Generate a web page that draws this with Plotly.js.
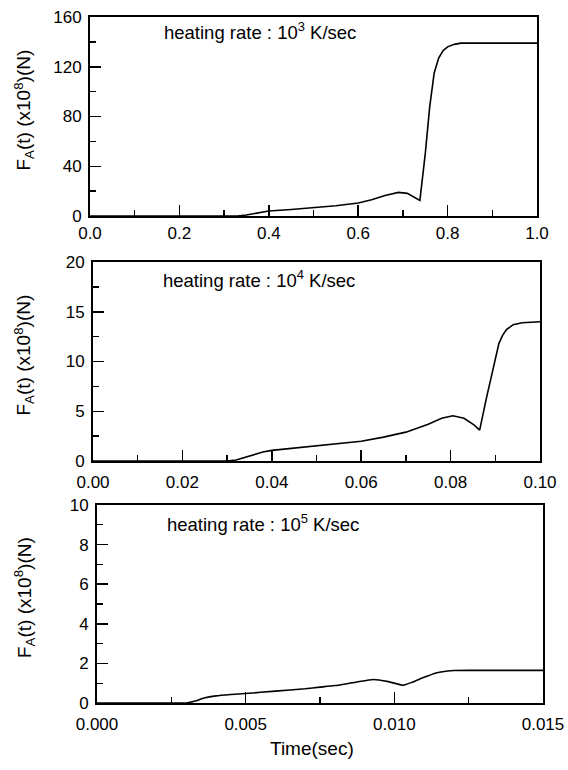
<!DOCTYPE html>
<html>
<head>
<meta charset="utf-8">
<script src="https://cdn.plot.ly/plotly-3.0.1.min.js"></script>
<style>html,body{margin:0;padding:0;background:#fff}#chart{width:568px;height:770px}</style>
</head>
<body>
<div id="chart"></div>
<script>
// Panel 1: heating rate 10^3 K/sec
const t1 = [0, 0.1, 0.2, 0.3, 0.33, 0.35, 0.37, 0.40, 0.45, 0.50, 0.55, 0.60, 0.63, 0.66, 0.69, 0.71, 0.725, 0.738, 0.75, 0.76, 0.77, 0.78, 0.79, 0.80, 0.815, 0.83, 0.85, 0.9, 1.0];
const f1 = [0, 0, 0, 0, 0, 0.8, 2, 4, 5.2, 6.5, 8.2, 10.5, 13, 16.5, 19, 18.2, 15.5, 12.5, 50, 88, 115, 127, 133, 136, 138, 139, 139, 139, 139];
// Panel 2: heating rate 10^4 K/sec
const t2 = [0, 0.01, 0.02, 0.03, 0.032, 0.035, 0.038, 0.04, 0.045, 0.05, 0.055, 0.06, 0.065, 0.07, 0.075, 0.078, 0.0805, 0.083, 0.0853, 0.0865, 0.088, 0.089, 0.0898, 0.0908, 0.0916, 0.0925, 0.094, 0.096, 0.098, 0.1];
const f2 = [0, 0, 0, 0, 0.1, 0.5, 0.9, 1.07, 1.3, 1.5, 1.7, 1.98, 2.4, 2.9, 3.7, 4.3, 4.55, 4.3, 3.6, 3.1, 6.3, 8.3, 10, 11.8, 12.6, 13.2, 13.7, 13.9, 13.95, 14.0];
// Panel 3: heating rate 10^5 K/sec
const t3 = [0, 0.001, 0.002, 0.003, 0.0033, 0.0036, 0.004, 0.0045, 0.005, 0.006, 0.007, 0.0075, 0.008, 0.0087, 0.0093, 0.0098, 0.0103, 0.0106, 0.011, 0.0114, 0.0118, 0.012, 0.013, 0.015];
const f3 = [0, 0, 0, 0, 0.1, 0.25, 0.36, 0.43, 0.48, 0.6, 0.72, 0.8, 0.88, 1.05, 1.19, 1.08, 0.9, 1.05, 1.3, 1.52, 1.62, 1.64, 1.65, 1.65];

const rateLabels = ["heating rate : 10<sup>3</sup> K/sec", "heating rate : 10<sup>4</sup> K/sec", "heating rate : 10<sup>5</sup> K/sec"];
const yTitle = "F<sub>A</sub>(t) (x10<sup>8</sup>)(N)";
const xTitle = "Time(sec)";

const W = 568, H = 770;
const fam = "Liberation Sans, Arial, sans-serif";
const tickFont = {family: fam, size: 17, color: "#000"};
const titleFont = {family: fam, size: 19, color: "#000"};
const labelFont = {family: fam, size: 18.5, color: "#000"};
const line = {color: "#000", width: 1.6};

const traces = [
  {x: t1, y: f1, xaxis: "x", yaxis: "y", mode: "lines", line: line, hoverinfo: "skip"},
  {x: t2, y: f2, xaxis: "x2", yaxis: "y2", mode: "lines", line: line, hoverinfo: "skip"},
  {x: t3, y: f3, xaxis: "x3", yaxis: "y3", mode: "lines", line: Object.assign({shape: "spline", smoothing: 0.5}, line), hoverinfo: "skip"}
];

// pixel boxes: [left, right, top, bottom]
const boxes = [[90, 537, 17, 216], [93, 540, 262, 461], [97, 543, 505, 703]];
const xr = [[0, 1], [0, 0.1], [0, 0.015]];
const xd = [0.2, 0.02, 0.005];
const xfmt = [".1f", ".2f", ".3f"];
const yr = [[0, 160], [0, 20], [0, 10]];
const yd = [40, 5, 2];
const xStandoff = [1, 5, 5];

function ax(range, dtick, fmt, domain, anchor) {
  return {
    domain: domain, range: range, anchor: anchor, dtick: dtick, tick0: 0,
    tickformat: fmt, ticks: "inside", ticklen: 11, tickwidth: 1.5, tickcolor: "#000",
    minor: {dtick: dtick / 2, ticks: "inside", ticklen: 6, tickwidth: 1.3, tickcolor: "#000", showgrid: false},
    showline: true, linecolor: "#000", linewidth: 2, mirror: true,
    showgrid: false, zeroline: false, tickfont: tickFont, fixedrange: true
  };
}

const layout = {
  width: W, height: H, margin: {l: 0, r: 0, t: 0, b: 0},
  paper_bgcolor: "#fff", plot_bgcolor: "#fff", showlegend: false, font: tickFont,
  annotations: []
};
const names = [["xaxis", "yaxis", "x", "y"], ["xaxis2", "yaxis2", "x2", "y2"], ["xaxis3", "yaxis3", "x3", "y3"]];
boxes.forEach((b, i) => {
  const xdom = [b[0] / W, b[1] / W];
  const ydom = [1 - b[3] / H, 1 - b[2] / H];
  const xa = ax(xr[i], xd[i], xfmt[i], xdom, names[i][3]);
  xa.ticklabelstandoff = xStandoff[i];
  const ya = ax(yr[i], yd[i], "", ydom, names[i][2]);
  ya.ticklabelstandoff = 3;
  layout[names[i][0]] = xa;
  layout[names[i][1]] = ya;
  layout.annotations.push({
    text: yTitle, textangle: -90, xref: "paper", yref: "paper",
    x: 24 / W, y: 1 - ((b[2] + b[3]) / 2 - 6) / H, showarrow: false, font: titleFont,
    xanchor: "center", yanchor: "middle"
  });
  layout.annotations.push({
    text: rateLabels[i], xref: "paper", yref: "paper",
    x: [162, 161, 165][i] / W, y: 1 - [31, 279, 523][i] / H, showarrow: false,
    font: labelFont, xanchor: "left", yanchor: "middle"
  });
});
layout.annotations.push({
  text: xTitle, xref: "paper", yref: "paper", x: 312 / W, y: 1 - 748 / H,
  showarrow: false, font: titleFont, xanchor: "center", yanchor: "middle"
});

Plotly.newPlot("chart", traces, layout, {staticPlot: true, displayModeBar: false});
</script>
</body>
</html>
